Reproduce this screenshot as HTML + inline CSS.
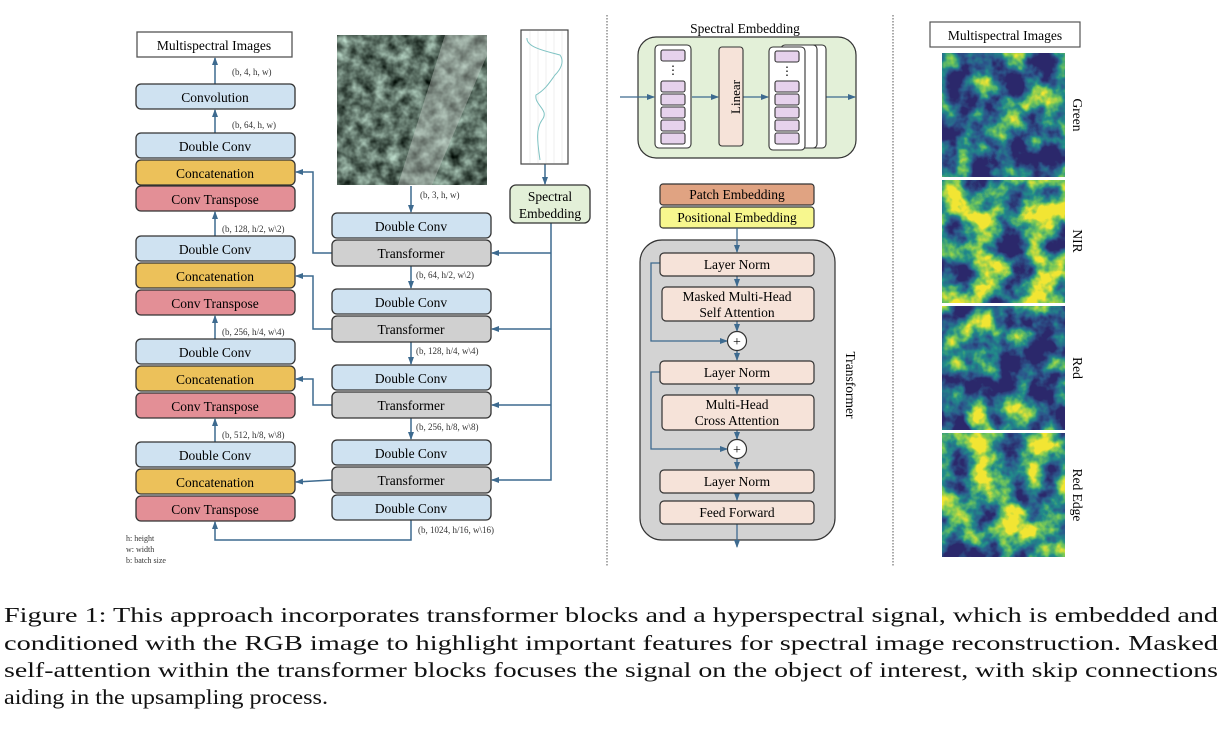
<!DOCTYPE html>
<html><head><meta charset="utf-8"><style>
html,body{margin:0;padding:0;background:#fff;}
svg{display:block;font-family:"Liberation Serif",serif;}
</style></head><body>
<svg width="1232" height="736" viewBox="0 0 1232 736" xmlns="http://www.w3.org/2000/svg">
<defs>
<marker id="a" markerWidth="8" markerHeight="8" refX="7" refY="4" orient="auto" markerUnits="userSpaceOnUse"><path d="M0,1 L8,4 L0,7 Z" fill="#3d6a8f"/></marker>
<filter id="vir" x="0" y="0" width="100%" height="100%" color-interpolation-filters="sRGB">
<feTurbulence type="fractalNoise" baseFrequency="0.035" numOctaves="4" seed="3"/>
<feColorMatrix type="matrix" values="2.4 0 0 0 -0.85 2.4 0 0 0 -0.85 2.4 0 0 0 -0.85 0 0 0 0 1"/>
<feComponentTransfer><feFuncR type="table" tableValues="0.17 0.17 0.13 0.45 0.95"/><feFuncG type="table" tableValues="0.16 0.35 0.55 0.78 0.9"/><feFuncB type="table" tableValues="0.42 0.55 0.54 0.35 0.2"/><feFuncA type="table" tableValues="1 1"/></feComponentTransfer>
</filter>
<filter id="vir2" x="0" y="0" width="100%" height="100%" color-interpolation-filters="sRGB">
<feTurbulence type="fractalNoise" baseFrequency="0.035" numOctaves="4" seed="7"/>
<feColorMatrix type="matrix" values="2.4 0 0 0 -0.65 2.4 0 0 0 -0.65 2.4 0 0 0 -0.65 0 0 0 0 1"/>
<feComponentTransfer><feFuncR type="table" tableValues="0.17 0.17 0.13 0.45 0.95"/><feFuncG type="table" tableValues="0.16 0.35 0.55 0.78 0.9"/><feFuncB type="table" tableValues="0.42 0.55 0.54 0.35 0.2"/><feFuncA type="table" tableValues="1 1"/></feComponentTransfer>
</filter>
<filter id="rgb" x="0" y="0" width="100%" height="100%" color-interpolation-filters="sRGB">
<feTurbulence type="fractalNoise" baseFrequency="0.08" numOctaves="3" seed="5"/>
<feColorMatrix type="matrix" values="0.9 0 0 0 -0.08 1.0 0 0 0 -0.05 0.95 0 0 0 -0.07 0 0 0 0 1"/>
</filter>
</defs>

<g stroke="#3d6a8f" stroke-width="1.5" fill="none">
<line x1="215" y1="84" x2="215" y2="58" marker-end="url(#a)"/>
<line x1="215" y1="133" x2="215" y2="110" marker-end="url(#a)"/>
<line x1="215" y1="236" x2="215" y2="212" marker-end="url(#a)"/>
<line x1="215" y1="339" x2="215" y2="316" marker-end="url(#a)"/>
<line x1="215" y1="442" x2="215" y2="419" marker-end="url(#a)"/>
<line x1="411" y1="186" x2="411" y2="212" marker-end="url(#a)"/>
<line x1="411" y1="266" x2="411" y2="288" marker-end="url(#a)"/>
<line x1="411" y1="342" x2="411" y2="364" marker-end="url(#a)"/>
<line x1="411" y1="418" x2="411" y2="439" marker-end="url(#a)"/>
<polyline points="411,520 411,540 215,540 215,522" marker-end="url(#a)"/>
<polyline points="332,253 313,253 313,172 296,172" marker-end="url(#a)"/>
<polyline points="332,329 313,329 313,276 296,276" marker-end="url(#a)"/>
<polyline points="332,405 313,405 313,379 296,379" marker-end="url(#a)"/>
<line x1="332" y1="480" x2="296" y2="482" marker-end="url(#a)"/>
<line x1="545" y1="164" x2="545" y2="184" marker-end="url(#a)"/>
<polyline points="551,222 551,480 492,480" marker-end="url(#a)"/>
<line x1="551" y1="253" x2="492" y2="253" marker-end="url(#a)"/>
<line x1="551" y1="329" x2="492" y2="329" marker-end="url(#a)"/>
<line x1="551" y1="405" x2="492" y2="405" marker-end="url(#a)"/>
</g>

<g stroke="#333" stroke-width="1.3" font-size="13.5" text-anchor="middle">
<rect x="137" y="32" width="155" height="25" fill="#fff" stroke="#555"/>
<text x="214" y="50" stroke="none">Multispectral Images</text>
<rect x="136" y="84" width="159" height="25" rx="5" fill="#cfe2f1"/><text x="215" y="102" stroke="none">Convolution</text>
<rect x="136" y="133" width="159" height="25" rx="5" fill="#cfe2f1"/><text x="215" y="151" stroke="none">Double Conv</text>
<rect x="136" y="160" width="159" height="25" rx="5" fill="#ecc15a"/><text x="215" y="178" stroke="none">Concatenation</text>
<rect x="136" y="186" width="159" height="25" rx="5" fill="#e38f96"/><text x="215" y="204" stroke="none">Conv Transpose</text>
<rect x="136" y="236" width="159" height="25" rx="5" fill="#cfe2f1"/><text x="215" y="254" stroke="none">Double Conv</text>
<rect x="136" y="263" width="159" height="25" rx="5" fill="#ecc15a"/><text x="215" y="281" stroke="none">Concatenation</text>
<rect x="136" y="290" width="159" height="25" rx="5" fill="#e38f96"/><text x="215" y="308" stroke="none">Conv Transpose</text>
<rect x="136" y="339" width="159" height="25" rx="5" fill="#cfe2f1"/><text x="215" y="357" stroke="none">Double Conv</text>
<rect x="136" y="366" width="159" height="25" rx="5" fill="#ecc15a"/><text x="215" y="384" stroke="none">Concatenation</text>
<rect x="136" y="393" width="159" height="25" rx="5" fill="#e38f96"/><text x="215" y="411" stroke="none">Conv Transpose</text>
<rect x="136" y="442" width="159" height="25" rx="5" fill="#cfe2f1"/><text x="215" y="460" stroke="none">Double Conv</text>
<rect x="136" y="469" width="159" height="25" rx="5" fill="#ecc15a"/><text x="215" y="487" stroke="none">Concatenation</text>
<rect x="136" y="496" width="159" height="25" rx="5" fill="#e38f96"/><text x="215" y="514" stroke="none">Conv Transpose</text>
<rect x="332" y="213" width="159" height="25" rx="5" fill="#cfe2f1"/><text x="411" y="231" stroke="none">Double Conv</text>
<rect x="332" y="240" width="159" height="26" rx="5" fill="#d0d0d0"/><text x="411" y="258" stroke="none">Transformer</text>
<rect x="332" y="289" width="159" height="25" rx="5" fill="#cfe2f1"/><text x="411" y="307" stroke="none">Double Conv</text>
<rect x="332" y="316" width="159" height="26" rx="5" fill="#d0d0d0"/><text x="411" y="334" stroke="none">Transformer</text>
<rect x="332" y="365" width="159" height="25" rx="5" fill="#cfe2f1"/><text x="411" y="383" stroke="none">Double Conv</text>
<rect x="332" y="392" width="159" height="26" rx="5" fill="#d0d0d0"/><text x="411" y="410" stroke="none">Transformer</text>
<rect x="332" y="440" width="159" height="25" rx="5" fill="#cfe2f1"/><text x="411" y="458" stroke="none">Double Conv</text>
<rect x="332" y="467" width="159" height="26" rx="5" fill="#d0d0d0"/><text x="411" y="485" stroke="none">Transformer</text>
<rect x="332" y="495" width="159" height="25" rx="5" fill="#cfe2f1"/><text x="411" y="513" stroke="none">Double Conv</text>
<rect x="510" y="185" width="80" height="38" rx="6" fill="#e3f0d8"/>
<text x="550" y="201" stroke="none">Spectral</text><text x="550" y="218" stroke="none">Embedding</text>
</g>

<g font-size="9" fill="#333">
<text x="232" y="75">(b, 4, h, w)</text>
<text x="232" y="128">(b, 64, h, w)</text>
<text x="222" y="232">(b, 128, h/2, w\2)</text>
<text x="222" y="335">(b, 256, h/4, w\4)</text>
<text x="222" y="438">(b, 512, h/8, w\8)</text>
<text x="420" y="198">(b, 3, h, w)</text>
<text x="416" y="278">(b, 64, h/2, w\2)</text>
<text x="416" y="354">(b, 128, h/4, w\4)</text>
<text x="416" y="430">(b, 256, h/8, w\8)</text>
<text x="418" y="533">(b, 1024, h/16, w\16)</text>
<text x="126" y="541" font-size="8">h: height</text>
<text x="126" y="552" font-size="8">w: width</text>
<text x="126" y="563" font-size="8">b: batch size</text>
</g>

<rect x="337" y="35" width="150" height="150" filter="url(#rgb)"/>
<path d="M445,35 L487,35 L487,55 L432,185 L398,185 Z" fill="#c8ccc8" opacity="0.4"/>
<rect x="521" y="30" width="47" height="134" fill="#fff" stroke="#444" stroke-width="1.2"/>
<g stroke="#e4e4e4" stroke-width="0.6"><line x1="530" y1="31" x2="530" y2="163"/><line x1="538" y1="31" x2="538" y2="163"/><line x1="546" y1="31" x2="546" y2="163"/><line x1="554" y1="31" x2="554" y2="163"/><line x1="562" y1="31" x2="562" y2="163"/></g>
<path d="M527,38 C526,48 550,52 560,55 C565,62 560,70 555,75 C550,82 545,90 536,95 C534,105 550,110 542,120 C535,130 538,145 540,160" stroke="#7fc3c3" stroke-width="1" fill="none"/>

<line x1="607" y1="15" x2="607" y2="567" stroke="#555" stroke-dasharray="1.5,1.5"/>
<line x1="893" y1="15" x2="893" y2="567" stroke="#555" stroke-dasharray="1.5,1.5"/>

<text x="745" y="33" font-size="13.5" text-anchor="middle">Spectral Embedding</text>
<rect x="638" y="37" width="218" height="121" rx="18" fill="#e3f0d8" stroke="#333" stroke-width="1.2"/>
<g stroke="#3d6a8f" stroke-width="1.3"><line x1="620" y1="97" x2="654" y2="97" marker-end="url(#a)"/><line x1="692" y1="97" x2="718" y2="97" marker-end="url(#a)"/><line x1="743" y1="97" x2="768" y2="97" marker-end="url(#a)"/><line x1="826" y1="97" x2="855" y2="97" marker-end="url(#a)"/></g>
<g stroke="#333" stroke-width="1.1">
<rect x="655" y="45" width="36" height="103" rx="4" fill="#fff"/>
<rect x="661" y="50" width="24" height="11" rx="2" fill="#e6d2ec"/>
<rect x="661" y="81" width="24" height="11" rx="2" fill="#e6d2ec"/><rect x="661" y="94" width="24" height="11" rx="2" fill="#e6d2ec"/><rect x="661" y="107" width="24" height="11" rx="2" fill="#e6d2ec"/><rect x="661" y="120" width="24" height="11" rx="2" fill="#e6d2ec"/><rect x="661" y="133" width="24" height="11" rx="2" fill="#e6d2ec"/>
<rect x="719" y="47" width="24" height="99" rx="3" fill="#f6e3d9"/>
<rect x="793" y="45" width="33" height="103" rx="4" fill="#fff"/>
<rect x="781" y="45" width="36" height="103" rx="4" fill="#fff"/>
<rect x="769" y="47" width="36" height="103" rx="4" fill="#fff"/>
<rect x="775" y="51" width="24" height="11" rx="2" fill="#e6d2ec"/>
<rect x="775" y="81" width="24" height="11" rx="2" fill="#e6d2ec"/><rect x="775" y="94" width="24" height="11" rx="2" fill="#e6d2ec"/><rect x="775" y="107" width="24" height="11" rx="2" fill="#e6d2ec"/><rect x="775" y="120" width="24" height="11" rx="2" fill="#e6d2ec"/><rect x="775" y="133" width="24" height="11" rx="2" fill="#e6d2ec"/>
</g>
<text x="673" y="74" font-size="12" text-anchor="middle">⋮</text>
<text x="787" y="75" font-size="12" text-anchor="middle">⋮</text>
<text transform="translate(736,97) rotate(-90)" font-size="13" text-anchor="middle" dy="4">Linear</text>

<g stroke="#333" stroke-width="1.2" font-size="13.5" text-anchor="middle">
<rect x="660" y="184" width="154" height="21" rx="3" fill="#e0a382"/><text x="737" y="199" stroke="none">Patch Embedding</text>
<rect x="660" y="207" width="154" height="21" rx="3" fill="#f7f78e"/><text x="737" y="222" stroke="none">Positional Embedding</text>
<rect x="640" y="240" width="195" height="300" rx="22" fill="#d3d3d3"/>
</g>
<g stroke="#3d6a8f" stroke-width="1.3" fill="none">
<line x1="737" y1="228" x2="737" y2="252" marker-end="url(#a)"/>
<line x1="737" y1="276" x2="737" y2="286" marker-end="url(#a)"/>
<line x1="737" y1="321" x2="737" y2="331" marker-end="url(#a)"/>
<line x1="737" y1="350" x2="737" y2="360" marker-end="url(#a)"/>
<line x1="737" y1="384" x2="737" y2="394" marker-end="url(#a)"/>
<line x1="737" y1="430" x2="737" y2="439" marker-end="url(#a)"/>
<line x1="737" y1="458" x2="737" y2="469" marker-end="url(#a)"/>
<line x1="737" y1="493" x2="737" y2="500" marker-end="url(#a)"/>
<line x1="737" y1="524" x2="737" y2="547" marker-end="url(#a)"/>
<polyline points="660,263 651,263 651,341 727,341" marker-end="url(#a)"/>
<polyline points="660,372 651,372 651,449 727,449" marker-end="url(#a)"/>
</g>
<g stroke="#333" stroke-width="1.2" font-size="13.5" text-anchor="middle">
<rect x="660" y="253" width="154" height="23" rx="4" fill="#f6e3d9"/><text x="737" y="269" stroke="none">Layer Norm</text>
<rect x="662" y="287" width="152" height="34" rx="4" fill="#f6e3d9"/><text x="737" y="301" stroke="none">Masked Multi-Head</text><text x="737" y="317" stroke="none">Self Attention</text>
<circle cx="737" cy="341" r="9.5" fill="#fff"/><text x="737" y="346" stroke="none" font-size="14">+</text>
<rect x="660" y="361" width="154" height="23" rx="4" fill="#f6e3d9"/><text x="737" y="377" stroke="none">Layer Norm</text>
<rect x="662" y="395" width="152" height="35" rx="4" fill="#f6e3d9"/><text x="737" y="409" stroke="none">Multi-Head</text><text x="737" y="425" stroke="none">Cross Attention</text>
<circle cx="737" cy="449" r="9.5" fill="#fff"/><text x="737" y="454" stroke="none" font-size="14">+</text>
<rect x="660" y="470" width="154" height="23" rx="4" fill="#f6e3d9"/><text x="737" y="486" stroke="none">Layer Norm</text>
<rect x="660" y="501" width="154" height="23" rx="4" fill="#f6e3d9"/><text x="737" y="517" stroke="none">Feed Forward</text>
</g>
<text transform="translate(846,385) rotate(90)" font-size="13.5" text-anchor="middle">Transformer</text>

<rect x="930" y="22" width="150" height="25" fill="#fff" stroke="#555" stroke-width="1.2"/>
<text x="1005" y="40" font-size="13.5" text-anchor="middle">Multispectral Images</text>
<rect x="942" y="53" width="123" height="124" filter="url(#vir)"/>
<rect x="942" y="180" width="123" height="123" filter="url(#vir2)"/>
<rect x="942" y="306" width="123" height="124" filter="url(#vir)"/>
<rect x="942" y="433" width="123" height="124" filter="url(#vir2)"/>
<g font-size="13.5" text-anchor="middle">
<text transform="translate(1073,115) rotate(90)">Green</text>
<text transform="translate(1073,241) rotate(90)">NIR</text>
<text transform="translate(1073,368) rotate(90)">Red</text>
<text transform="translate(1073,495) rotate(90)">Red Edge</text>
</g>

<g font-size="21.5" fill="#111">
<text x="4" y="622" textLength="1214" lengthAdjust="spacingAndGlyphs">Figure 1: This approach incorporates transformer blocks and a hyperspectral signal, which is embedded and</text>
<text x="4" y="650" textLength="1214" lengthAdjust="spacingAndGlyphs">conditioned with the RGB image to highlight important features for spectral image reconstruction. Masked</text>
<text x="4" y="677" textLength="1214" lengthAdjust="spacingAndGlyphs">self-attention within the transformer blocks focuses the signal on the object of interest, with skip connections</text>
<text x="4" y="704" textLength="324" lengthAdjust="spacingAndGlyphs">aiding in the upsampling process.</text>
</g>
</svg>
</body></html>
